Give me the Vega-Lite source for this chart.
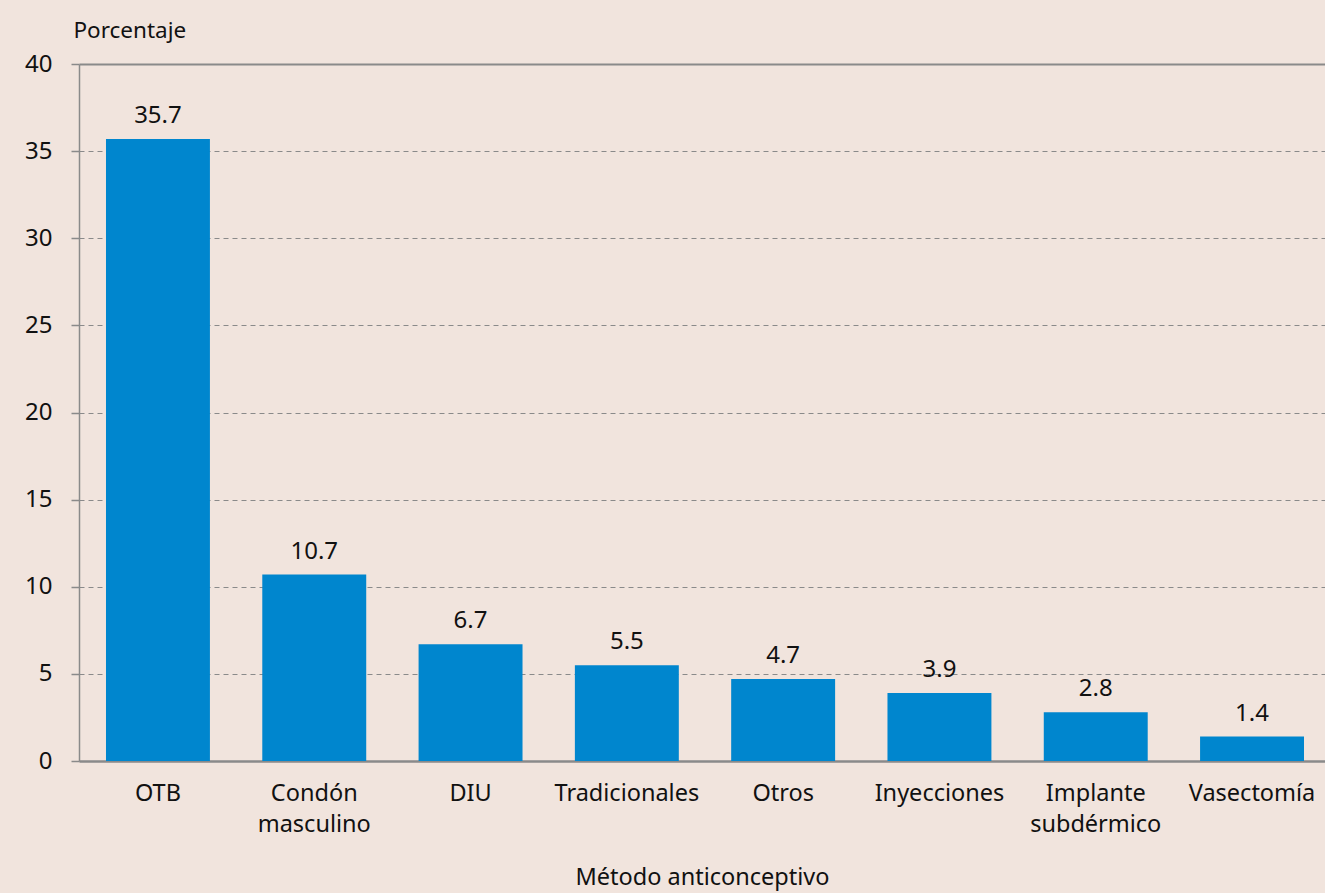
{
  "$schema": "https://vega.github.io/schema/vega-lite/v6.json",
  "width": 1246,
  "height": 697,
  "autosize": {"type": "none"},
  "padding": {"left": 79, "top": 64, "right": 0, "bottom": 132},
  "background": "#F1E4DD",
  "config": {
    "view": {"stroke": null},
    "font": "Noto Sans",
    "axis": {"labelFont": "Noto Sans", "titleFont": "Noto Sans", "labelColor": "#111111", "titleColor": "#111111", "titleFontWeight": "normal"}
  },
  "data": {
    "values": [
      {"metodo": "OTB", "pct": 35.7},
      {"metodo": "Condón masculino", "pct": 10.7},
      {"metodo": "DIU", "pct": 6.7},
      {"metodo": "Tradicionales", "pct": 5.5},
      {"metodo": "Otros", "pct": 4.7},
      {"metodo": "Inyecciones", "pct": 3.9},
      {"metodo": "Implante subdérmico", "pct": 2.8},
      {"metodo": "Vasectomía", "pct": 1.4}
    ]
  },
  "encoding": {
    "x": {
      "field": "metodo",
      "type": "nominal",
      "sort": null,
      "scale": {"paddingInner": 0.335, "paddingOuter": 0.1535, "align": 0.5625},
      "axis": {
        "title": "Método anticonceptivo",
        "titleFontSize": 23.5,
        "titlePadding": 30,
        "labelAngle": 0,
        "labelFontSize": 23.5,
        "labelPadding": 20,
        "labelLineHeight": 31,
        "labelExpr": "indexof(datum.label, ' ') > 0 ? split(datum.label, ' ') : datum.label",
        "ticks": false,
        "domainColor": "#8a8a8a",
        "domainWidth": 2.5,
        "grid": false
      }
    },
    "y": {
      "field": "pct",
      "type": "quantitative",
      "scale": {"domain": [0, 40]},
      "axis": {
        "values": [0, 5, 10, 15, 20, 25, 30, 35, 40],
        "title": "Porcentaje",
        "titleAngle": 0,
        "titleAlign": "left",
        "titleBaseline": "alphabetic",
        "titleX": -6,
        "titleY": -27,
        "titleFontSize": 22.5,
        "labelFontSize": 24,
        "labelPadding": 19,
        "tickSize": 8,
        "tickColor": "#8a8a8a",
        "tickWidth": 1.5,
        "domainColor": "#8a8a8a",
        "domainWidth": 1.5,
        "grid": true,
        "gridColor": "#8a8a8a",
        "gridWidth": {"condition": {"test": "datum.value === 40", "value": 1.8}, "value": 1},
        "gridDash": {"condition": {"test": "datum.value === 40", "value": []}, "value": [5, 4]}
      }
    }
  },
  "layer": [
    {"mark": {"type": "bar", "color": "#0086CE"}},
    {
      "mark": {"type": "text", "baseline": "alphabetic", "dy": -16, "fontSize": 24, "color": "#111111"},
      "encoding": {"text": {"field": "pct", "type": "quantitative", "format": ".1f"}}
    }
  ]
}
